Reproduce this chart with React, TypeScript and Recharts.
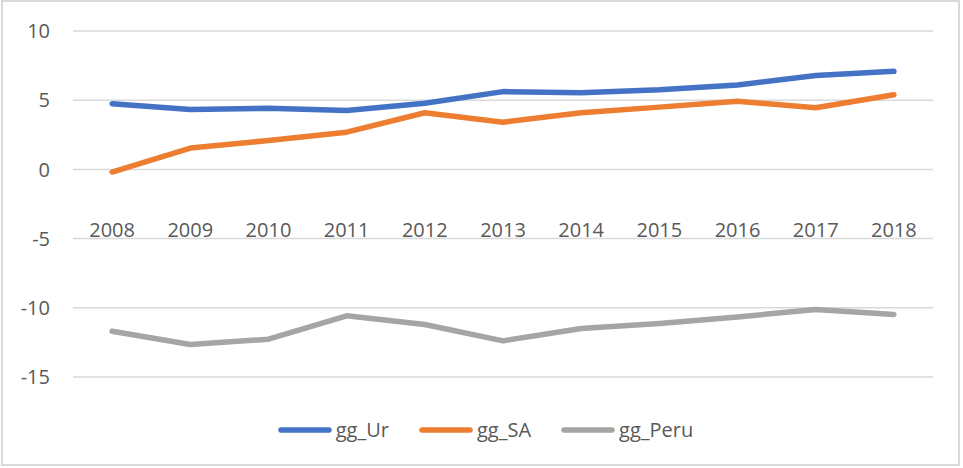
import { CartesianGrid, Legend, Line, LineChart, XAxis, YAxis } from 'recharts';

const years = ['2008', '2009', '2010', '2011', '2012', '2013', '2014', '2015', '2016', '2017', '2018'];
const ggUr = [4.75, 4.33, 4.42, 4.26, 4.78, 5.62, 5.53, 5.75, 6.1, 6.78, 7.09];
const ggSA = [-0.19, 1.54, 2.09, 2.69, 4.09, 3.41, 4.09, 4.5, 4.93, 4.45, 5.39];
const ggPeru = [-11.69, -12.65, -12.27, -10.58, -11.21, -12.39, -11.5, -11.14, -10.66, -10.12, -10.48];
const yTicks = [-15, -10, -5, 0, 5, 10];

const SERIES = [
  { key: 'gg_Ur', color: '#4472C4' },
  { key: 'gg_SA', color: '#ED7D31' },
  { key: 'gg_Peru', color: '#A5A5A5' },
];

const data = years.map((year, i) => ({
  year,
  gg_Ur: ggUr[i],
  gg_SA: ggSA[i],
  gg_Peru: ggPeru[i],
}));

const TEXT = '#595959';

// Excel draws the category labels up next to the -5 gridline
const YearTick = ({ x, y, payload }: any) => (
  <text x={x} y={y - 140} textAnchor="middle" fill={TEXT} fontSize={20}>
    {payload.value}
  </text>
);

const seriesOrder = (value: string) => SERIES.findIndex((s) => s.key === value);

const LegendContent = ({ payload }: any) => {
  const items = [...(payload || [])].sort((a: any, b: any) => seriesOrder(a.value) - seriesOrder(b.value));
  return (
    <div style={{ display: 'flex', justifyContent: 'center', alignItems: 'center', paddingLeft: 8 }}>
      {items.map((entry: any, i: number) => (
        <div
          key={entry.value}
          style={{ display: 'flex', alignItems: 'center', marginRight: i < items.length - 1 ? 30 : 0 }}
        >
          <svg width={54} height={10} style={{ marginRight: 4 }}>
            <line x1={3} y1={5} x2={51} y2={5} stroke={entry.color} strokeWidth={5.5} strokeLinecap="round" />
          </svg>
          <span style={{ color: TEXT, fontSize: 20 }}>{entry.value}</span>
        </div>
      ))}
    </div>
  );
};

const App = () => {
  return (
    <div style={{ position: 'absolute', left: 0, top: 0, width: 963, height: 468, background: '#fff' }}>
      <div
        style={{
          position: 'absolute',
          left: 1,
          top: 0,
          width: 959,
          height: 466,
          border: '2px solid #D9D9D9',
          boxSizing: 'border-box',
        }}
      />
      <LineChart
        width={963}
        height={468}
        data={data}
        margin={{ top: 31, right: 30, left: 0, bottom: 90 }}
        style={{ fontFamily: '"Open Sans", sans-serif' }}
      >
        <CartesianGrid vertical={false} stroke="#D9D9D9" strokeWidth={1.5} />
        <XAxis
          dataKey="year"
          scale="band"
          axisLine={false}
          tickLine={false}
          tickSize={0}
          tickMargin={0}
          height={1}
          interval={0}
          tick={<YearTick />}
        />
        <YAxis
          domain={[-15, 10]}
          ticks={yTicks}
          width={73}
          axisLine={false}
          tickLine={false}
          tickSize={0}
          tickMargin={23}
          tick={{ fill: TEXT, fontSize: 20 }}
        />
        <Legend
          layout="horizontal"
          verticalAlign="middle"
          align="center"
          content={<LegendContent />}
          wrapperStyle={{ top: 416, left: 0, width: 963 }}
        />
        {SERIES.map((s) => (
          <Line
            key={s.key}
            type="linear"
            dataKey={s.key}
            stroke={s.color}
            strokeWidth={5.5}
            strokeLinecap="round"
            strokeLinejoin="round"
            dot={false}
            activeDot={false}
            isAnimationActive={false}
          />
        ))}
      </LineChart>
    </div>
  );
};

export default App;
